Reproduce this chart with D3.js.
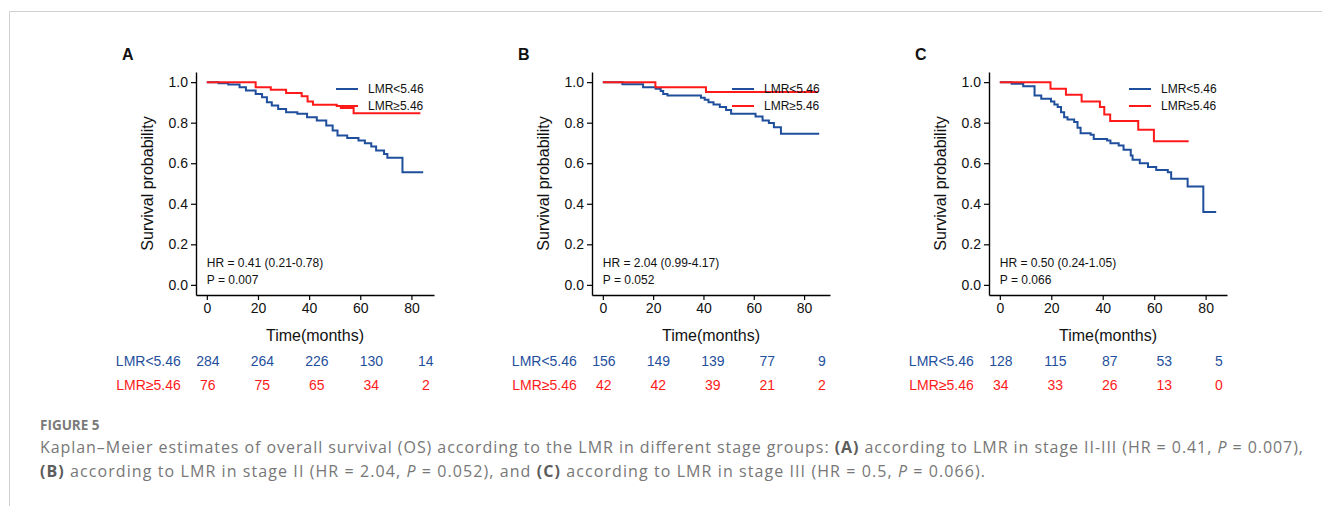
<!DOCTYPE html>
<html>
<head>
<meta charset="utf-8">
<script src="https://cdn.jsdelivr.net/npm/d3@7.9.0/dist/d3.min.js"></script>
<style>
  body { margin: 0; background: #fff; }
  svg { display: block; }
  .chart text { font-family: "Liberation Sans", Arial, sans-serif; fill: #111; }
  .caption text { font-family: "Open Sans", "Noto Sans", sans-serif; }
</style>
</head>
<body>
<svg id="fig" width="1322" height="506"></svg>
<script>
// ---- data ----
const panelLabels = ['A', 'B', 'C'];
const groupNames = ['LMR<5.46', 'LMR≥5.46'];
const hrLabels = ['HR = 0.41 (0.21-0.78)', 'HR = 2.04 (0.99-4.17)', 'HR = 0.50 (0.24-1.05)'];
const pLabels = ['P = 0.007', 'P = 0.052', 'P = 0.066'];

// [time, survival] after each step
const lowA = [[0,1],[4.6,0.995],[8.4,0.988],[12.8,0.975],[15.3,0.959],[19.1,0.942],[21.6,0.926],
  [23.5,0.901],[25.4,0.885],[27.9,0.868],[31,0.852],[35.4,0.844],[39.2,0.827],[43,0.811],[46.7,0.786],
  [49.2,0.762],[51.1,0.737],[54.9,0.725],[59.3,0.712],[61.8,0.699],[64.3,0.683],[66.2,0.663],
  [69.3,0.646],[70.6,0.627],[76.5,0.556],[84.6,0.556]];
const highA = [[0,1],[19.1,0.975],[25,0.962],[31,0.947],[37.1,0.931],[39.4,0.905],[41.5,0.888],
  [50.8,0.882],[52.4,0.873],[57.4,0.847],[83.5,0.847]];

const lowB = [[0,1],[7.8,0.99],[16,0.975],[21,0.967],[23,0.956],[24,0.942],[25.7,0.934],[39,0.923],
  [40.5,0.913],[42,0.901],[44,0.89],[46.5,0.877],[49,0.863],[51,0.844],[60.7,0.83],[63.5,0.811],
  [66,0.798],[68,0.778],[70.8,0.745],[86,0.745]];
const highB = [[0,1],[20.9,0.975],[41,0.951],[85.5,0.951]];

const lowC = [[0,1],[4.6,0.992],[9.1,0.98],[13.5,0.934],[16.1,0.918],[19.9,0.905],[21.2,0.89],
  [22.5,0.877],[23.8,0.852],[25,0.827],[26.3,0.816],[28.9,0.803],[30.2,0.775],[31.4,0.748],
  [35.3,0.74],[36.5,0.72],[41.7,0.712],[43,0.699],[46.2,0.688],[48.1,0.666],[50.9,0.638],
  [51.6,0.617],[54.4,0.6],[57.6,0.581],[60.8,0.567],[65.3,0.556],[66.6,0.523],[73,0.485],
  [79.1,0.359],[84.1,0.359]];
const highC = [[0,1],[19.7,0.967],[25.7,0.938],[31.8,0.905],[38.9,0.877],[40.6,0.84],[42.9,0.808],
  [53.8,0.765],[59.9,0.709],[73.4,0.709]];

const riskTimes = [0, 20, 40, 60, 80];
const riskLowA = [284, 264, 226, 130, 14];
const riskHighA = [76, 75, 65, 34, 2];
const riskLowB = [156, 149, 139, 77, 9];
const riskHighB = [42, 42, 39, 21, 2];
const riskLowC = [128, 115, 87, 53, 5];
const riskHighC = [34, 33, 26, 13, 0];

const xTicks = [0, 20, 40, 60, 80];
const yTicks = [0, 0.2, 0.4, 0.6, 0.8, 1.0];

const panels = [
  { label: panelLabels[0], low: lowA, high: highA, rLow: riskLowA, rHigh: riskHighA, hr: hrLabels[0], p: pLabels[0] },
  { label: panelLabels[1], low: lowB, high: highB, rLow: riskLowB, rHigh: riskHighB, hr: hrLabels[1], p: pLabels[1] },
  { label: panelLabels[2], low: lowC, high: highC, rLow: riskLowC, rHigh: riskHighC, hr: hrLabels[2], p: pLabels[2] }
];

const blue = '#1f4f9c';
const red = '#ff1a1a';
const colors = [blue, red];

const svg = d3.select('#fig');

// page frame
svg.append('path')
  .attr('d', 'M9.5,506V11.5H1322')
  .attr('fill', 'none')
  .attr('stroke', '#d0d0d0');

const panelLeft = [196, 592, 989];
const plotTop = 72, plotW = 238, plotH = 223;

panels.forEach((p, i) => {
  const g = svg.append('g')
    .attr('class', 'chart')
    .attr('transform', `translate(${panelLeft[i]},${plotTop})`);

  const tmax = d3.max([...p.low, ...p.high], d => d[0]);
  const x = d3.scaleLinear().domain([-0.05 * tmax, 1.05 * tmax]).range([0, plotW]);
  const y = d3.scaleLinear().domain([-0.05, 1.05]).range([plotH, 0]);

  // axes
  const gx = g.append('g')
    .attr('transform', `translate(0,${plotH})`)
    .call(d3.axisBottom(x).tickValues(xTicks).tickSize(5).tickSizeOuter(0).tickPadding(3));
  const gy = g.append('g')
    .call(d3.axisLeft(y).tickValues(yTicks).tickFormat(d3.format('.1f')).tickSize(5).tickSizeOuter(0).tickPadding(3));
  [gx, gy].forEach(a => {
    a.select('.domain').attr('stroke', '#000').attr('stroke-width', 1.4);
    a.selectAll('.tick line').attr('stroke', '#000').attr('stroke-width', 1.2);
    a.selectAll('.tick text').attr('font-size', 14).attr('fill', '#111')
      .attr('font-family', '"Liberation Sans", Arial, sans-serif');
  });

  // survival curves
  const line = d3.line()
    .x(d => x(d[0]))
    .y(d => y(d[1]))
    .curve(d3.curveStepAfter);
  [p.low, p.high].forEach((c, k) => {
    g.append('path')
      .datum(c)
      .attr('d', line)
      .attr('fill', 'none')
      .attr('stroke', colors[k])
      .attr('stroke-width', 2);
  });

  // legend
  groupNames.forEach((name, k) => {
    const ly = 17 + k * 17;
    g.append('line')
      .attr('x1', 140).attr('x2', 162)
      .attr('y1', ly).attr('y2', ly)
      .attr('stroke', colors[k]).attr('stroke-width', 2);
    g.append('text')
      .attr('x', 172).attr('y', ly + 4)
      .attr('font-size', 12)
      .text(name);
  });

  // HR and p
  g.append('text').attr('x', x(0)).attr('y', 195).attr('font-size', 12).text(p.hr);
  g.append('text').attr('x', x(0)).attr('y', 211.5).attr('font-size', 12).text(p.p);

  // panel letter
  g.append('text')
    .attr('x', -74).attr('y', -12)
    .attr('font-size', 16).attr('font-weight', 'bold')
    .text(p.label);

  // axis titles
  g.append('text')
    .attr('transform', `translate(-43,${plotH / 2}) rotate(-90)`)
    .attr('text-anchor', 'middle')
    .attr('font-size', 16)
    .text('Survival probability');
  g.append('text')
    .attr('x', plotW / 2).attr('y', 269)
    .attr('text-anchor', 'middle')
    .attr('font-size', 16)
    .text('Time(months)');

  // risk table
  const rx = d3.scaleLinear().domain([0, 80]).range([x(0) + 1, x(0) + 219]);
  [p.rLow, p.rHigh].forEach((row, k) => {
    const ry = 294 + k * 24;
    g.append('text')
      .attr('x', x(0) - 26).attr('y', ry)
      .attr('text-anchor', 'end')
      .attr('font-size', 14)
      .style('fill', colors[k])
      .text(groupNames[k]);
    row.forEach((n, j) => {
      g.append('text')
        .attr('x', rx(riskTimes[j])).attr('y', ry)
        .attr('text-anchor', 'middle')
        .attr('font-size', 14)
        .style('fill', colors[k])
        .text(n);
    });
  });
});

// caption
const cap = svg.append('g').attr('class', 'caption');
cap.append('text')
  .attr('x', 40).attr('y', 430)
  .attr('font-size', 13.5).attr('font-weight', 'bold')
  .attr('fill', '#7a7a7a')
  .text('FIGURE 5');

const captionLines = [
  [['Kaplan–Meier estimates of overall survival (OS) according to the LMR in different stage groups: ', ''], ['(A)', 'b'],
   [' according to LMR in stage II-III (HR = 0.41, ', ''], ['P', 'i'], [' = 0.007),', '']],
  [['(B)', 'b'], [' according to LMR in stage II (HR = 2.04, ', ''], ['P', 'i'], [' = 0.052), and ', ''], ['(C)', 'b'],
   [' according to LMR in stage III (HR = 0.5, ', ''], ['P', 'i'], [' = 0.066).', '']]
];
const captionWidths = [1263, 945];
captionLines.forEach((parts, li) => {
  const t = cap.append('text')
    .attr('x', 40).attr('y', 453 + li * 24)
    .attr('font-size', 16)
    .attr('fill', '#777')
    .attr('textLength', captionWidths[li])
    .attr('lengthAdjust', 'spacing');
  parts.forEach(([s, st]) => {
    const ts = t.append('tspan').text(s);
    if (st === 'b') ts.attr('font-weight', 'bold').attr('fill', '#5c5c5c');
    if (st === 'i') ts.attr('font-style', 'italic');
  });
});
</script>
</body>
</html>
